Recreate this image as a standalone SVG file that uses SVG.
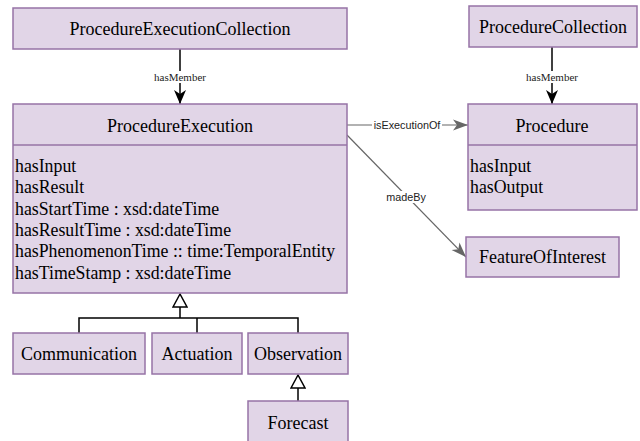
<svg xmlns="http://www.w3.org/2000/svg" width="640" height="441" viewBox="0 0 640 441">
<style>
.box{fill:#e1d5e7;stroke:#9673a6;stroke-width:1.5}
.sep{stroke:#9673a6;stroke-width:1.5;fill:none}
.t{font-family:"Liberation Serif","Times New Roman",serif;font-size:18px;fill:#000}
.a{font-family:"Liberation Serif","Times New Roman",serif;font-size:17.8px;fill:#000}
.el{font-family:"Liberation Serif","Times New Roman",serif;font-size:11px;fill:#222}
.es{font-family:"Liberation Sans",Arial,sans-serif;font-size:10.8px;fill:#222}
.blk{stroke:#000;stroke-width:1.5;fill:none}
.gry{stroke:#666;stroke-width:1.2;fill:none}
</style>
<defs>
<marker id="fill" markerWidth="16" markerHeight="14" refX="14" refY="7" orient="auto" markerUnits="userSpaceOnUse">
<path d="M0,1 L14,7 L0,13 L4,7 Z" fill="#000"/>
</marker>
<marker id="gar" markerWidth="16" markerHeight="12" refX="15" refY="6" orient="auto" markerUnits="userSpaceOnUse">
<path d="M0,0.5 L15,6 L0,11.5 L4,6 Z" fill="#666"/>
</marker>
<marker id="tri" markerWidth="16" markerHeight="16" refX="14" refY="8" orient="auto" markerUnits="userSpaceOnUse">
<path d="M1,1 L14,8 L1,15 Z" fill="#fff" stroke="#000" stroke-width="1.5"/>
</marker>
</defs>

<g id="connectors">
<g id="e-hasMember1">
<path class="blk" d="M180,49 V104" marker-end="url(#fill)"/>
<rect x="151" y="71" width="58" height="12" fill="#fff"/>
<text class="el" x="180" y="80.5" text-anchor="middle">hasMember</text>
</g>
<g id="e-hasMember2">
<path class="blk" d="M552,47 V104" marker-end="url(#fill)"/>
<rect x="523" y="71" width="58" height="12" fill="#fff"/>
<text class="el" x="552" y="80.5" text-anchor="middle">hasMember</text>
</g>
<g id="e-isExecutionOf">
<path class="gry" d="M347,125 H468" marker-end="url(#gar)"/>
<rect x="372" y="119" width="70" height="12" fill="#fff"/>
<text class="es" x="407" y="128.5" text-anchor="middle">isExecutionOf</text>
</g>
<g id="e-madeBy">
<path class="gry" d="M347,135 L466,257" marker-end="url(#gar)"/>
<rect x="385" y="191" width="42" height="12" fill="#fff"/>
<text class="es" x="406" y="200.5" text-anchor="middle">madeBy</text>
</g>
<g id="e-gen">
<path class="blk" d="M79,333 V318 H298 V333 M197,333 V318 M180,318 V294" marker-end="url(#tri)"/>
</g>
<g id="e-gen2">
<path class="blk" d="M298,401 V375" marker-end="url(#tri)"/>
</g>
</g>

<g id="ProcedureExecutionCollection">
<rect class="box" x="13" y="8" width="334" height="41"/>
<text class="t" x="180" y="34.5" text-anchor="middle">ProcedureExecutionCollection</text>
</g>

<g id="ProcedureExecution">
<rect class="box" x="13" y="104" width="334" height="189"/>
<path class="sep" d="M13,145 H347"/>
<text class="t" x="180" y="131.5" text-anchor="middle">ProcedureExecution</text>
<text class="a" x="15" y="171.5">hasInput</text>
<text class="a" x="15" y="193">hasResult</text>
<text class="a" x="15" y="214.5">hasStartTime : xsd:dateTime</text>
<text class="a" x="15" y="236">hasResultTime : xsd:dateTime</text>
<text class="a" x="15" y="257">hasPhenomenonTime :: time:TemporalEntity</text>
<text class="a" x="15" y="278.5">hasTimeStamp : xsd:dateTime</text>
</g>

<g id="ProcedureCollection">
<rect class="box" x="469" y="6" width="168" height="41"/>
<text class="t" x="553" y="32.5" text-anchor="middle">ProcedureCollection</text>
</g>

<g id="Procedure">
<rect class="box" x="468" y="104" width="169" height="106"/>
<path class="sep" d="M468,145 H637"/>
<text class="t" x="552" y="131.5" text-anchor="middle">Procedure</text>
<text class="a" x="470" y="171.5">hasInput</text>
<text class="a" x="470" y="193">hasOutput</text>
</g>

<g id="FeatureOfInterest">
<rect class="box" x="466" y="237" width="153" height="40"/>
<text class="t" x="542.5" y="263" text-anchor="middle">FeatureOfInterest</text>
</g>

<g id="Communication">
<rect class="box" x="13" y="333" width="132" height="41"/>
<text class="t" x="79" y="359.5" text-anchor="middle">Communication</text>
</g>

<g id="Actuation">
<rect class="box" x="152" y="333" width="90" height="41"/>
<text class="t" x="197" y="359.5" text-anchor="middle">Actuation</text>
</g>

<g id="Observation">
<rect class="box" x="248" y="333" width="100" height="41"/>
<text class="t" x="298" y="359.5" text-anchor="middle">Observation</text>
</g>

<g id="Forecast">
<rect class="box" x="248" y="401" width="100" height="45"/>
<text class="t" x="298" y="428.5" text-anchor="middle">Forecast</text>
</g>
</svg>
